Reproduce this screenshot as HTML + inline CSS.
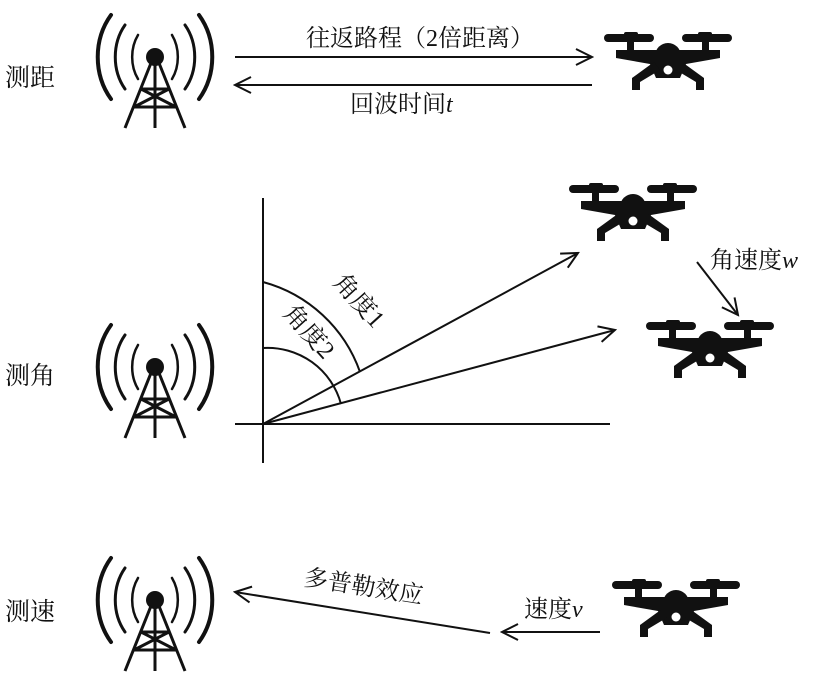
<!DOCTYPE html>
<html><head><meta charset="utf-8"><style>
html,body{margin:0;padding:0;background:#fff;}
svg{display:block;}
text{font-family:"Liberation Serif","Noto Serif CJK SC",serif;fill:#111;}
</style></head><body>
<svg width="824" height="677" viewBox="0 0 824 677" xmlns="http://www.w3.org/2000/svg">
<defs>
<marker id="ah" markerWidth="20" markerHeight="20" refX="18" refY="10" orient="auto" markerUnits="userSpaceOnUse">
<path d="M2,2 L18,10 L2,18" fill="none" stroke="#111" stroke-width="2"/>
</marker>
<g id="ant" fill="none" stroke="#111" stroke-linecap="round">
<path d="M-17,-22 A28,36 0 0 0 -17,22" stroke-width="2.5"/>
<path d="M17,-22 A28,36 0 0 1 17,22" stroke-width="2.5"/>
<path d="M-30,-32 A42,50 0 0 0 -30,32" stroke-width="3"/>
<path d="M30,-32 A42,50 0 0 1 30,32" stroke-width="3"/>
<path d="M-44,-42 A58,66 0 0 0 -44,42" stroke-width="4"/>
<path d="M44,-42 A58,66 0 0 1 44,42" stroke-width="4"/>
<circle cx="0" cy="0" r="9" fill="#111" stroke="none"/>
<path d="M-4,6 L-30,71 M4,6 L30,71 M0,6 L0,71 M-14,32 L14,32 M-21,50 L21,50 M-14,32 L21,50 M14,32 L-21,50" stroke-width="3" stroke-linecap="butt"/>
</g>
<g id="drone" fill="#111">
<rect x="-64" y="-4" width="50" height="8" rx="4"/>
<rect x="14" y="-4" width="50" height="8" rx="4"/>
<rect x="-44" y="-6" width="14" height="4" rx="2"/>
<rect x="30" y="-6" width="14" height="4" rx="2"/>
<rect x="-41" y="0" width="7" height="14"/>
<rect x="34" y="0" width="7" height="14"/>
<circle cx="0" cy="18" r="13"/>
<path d="M-52,12 L52,12 L52,20 L18,26 L12,40 L-12,40 L-18,26 L-52,20 Z"/>
<path d="M-14,24 L-36,40 L-36,52 L-28,52 L-28,44 L-8,32 Z"/>
<path d="M14,24 L36,40 L36,52 L28,52 L28,44 L8,32 Z"/>
<circle cx="0" cy="32" r="4.5" fill="#fff"/>
</g>
</defs>

<text x="5" y="86" font-size="25">测距</text>
<text x="5" y="384" font-size="25">测角</text>
<text x="5" y="620" font-size="25">测速</text>

<use href="#ant" x="155" y="57"/>
<use href="#ant" x="155" y="367"/>
<use href="#ant" x="155" y="600"/>

<use href="#drone" x="668" y="38"/>
<use href="#drone" x="633" y="189"/>
<use href="#drone" x="710" y="326"/>
<use href="#drone" x="676" y="585"/>

<g stroke="#111" stroke-width="2" fill="none">
<line x1="235" y1="57" x2="592" y2="57" marker-end="url(#ah)"/>
<line x1="592" y1="85" x2="235" y2="85" marker-end="url(#ah)"/>
<line x1="263" y1="198" x2="263" y2="463"/>
<line x1="235" y1="424" x2="610" y2="424"/>
<line x1="263" y1="424" x2="578" y2="253" marker-end="url(#ah)"/>
<line x1="263" y1="424" x2="615" y2="330" marker-end="url(#ah)"/>
<path d="M263,282 A142,142 0 0 1 360,372"/>
<path d="M263,348 A76,76 0 0 1 341,404"/>
<line x1="697" y1="262" x2="738" y2="315" marker-end="url(#ah)"/>
<line x1="490" y1="633" x2="235" y2="592" marker-end="url(#ah)"/>
<line x1="600" y1="632" x2="502" y2="632" marker-end="url(#ah)"/>
</g>

<text x="420" y="46" font-size="24" text-anchor="middle">往返路程（2倍距离）</text>
<text x="350" y="112" font-size="24">回波时间<tspan font-style="italic">t</tspan></text>
<text font-size="25" transform="translate(332,283) rotate(48)">角度1</text>
<text font-size="25" transform="translate(282,314) rotate(48)">角度2</text>
<text x="710" y="268" font-size="24">角速度<tspan font-style="italic">w</tspan></text>
<text font-size="24" transform="translate(303,585) rotate(9)">多普勒效应</text>
<text x="524" y="617" font-size="24">速度<tspan font-style="italic">v</tspan></text>
</svg>
</body></html>
